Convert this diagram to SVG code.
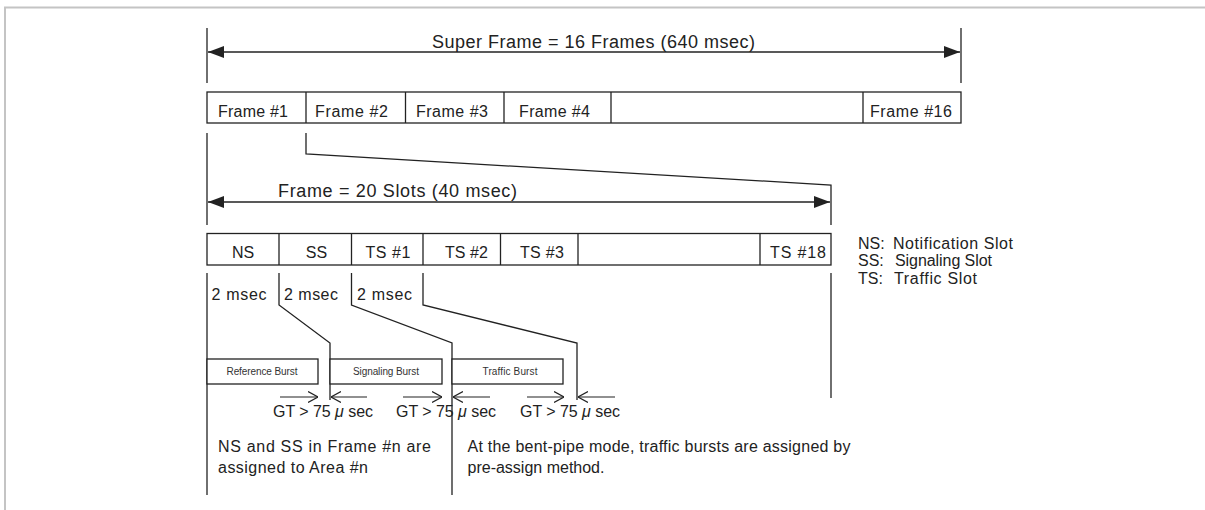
<svg xmlns="http://www.w3.org/2000/svg" width="1205" height="510" viewBox="0 0 1205 510">
<defs>
<style>
.ln{fill:none;stroke:#222;stroke-width:1.3}
.bx{fill:#fff;stroke:#222;stroke-width:1.3}
.t{font-family:"Liberation Sans",Arial,sans-serif;font-size:16px;fill:#222}
.tl{font-family:"Liberation Sans",Arial,sans-serif;font-size:18px;fill:#222}
.ts{font-family:"Liberation Sans",Arial,sans-serif;font-size:10px;fill:#333}
.m{text-anchor:middle}
.op{fill:none;stroke:#222;stroke-width:1.2}
</style>
<marker id="fa" viewBox="0 0 16 12" refX="16" refY="6" markerWidth="16" markerHeight="12" markerUnits="userSpaceOnUse" orient="auto-start-reverse">
<path d="M0,0 L16,6 L0,12 Z" fill="#222"/>
</marker>
<marker id="oa" viewBox="0 0 10 12" refX="10" refY="6" markerWidth="10" markerHeight="12" markerUnits="userSpaceOnUse" orient="auto">
<path d="M0,0.5 L10,6 L0,11.5" fill="none" stroke="#222" stroke-width="1.2"/>
</marker>
</defs>
<rect width="1205" height="510" fill="#fff"/>
<path d="M5,510 V7.5 H1205" fill="none" stroke="#c4c4c4" stroke-width="2"/>

<g id="connectors">
<line class="ln" x1="207" y1="28" x2="207" y2="83"/>
<line class="ln" x1="961" y1="28" x2="961" y2="83"/>
<line class="ln" x1="208" y1="52" x2="960" y2="52" marker-start="url(#fa)" marker-end="url(#fa)"/>
<line class="ln" x1="207" y1="133" x2="207" y2="225"/>
<polyline class="ln" points="306,133 306,154 831,185 831,225"/>
<line class="ln" x1="208" y1="202" x2="830" y2="202" marker-start="url(#fa)" marker-end="url(#fa)"/>
<line class="ln" x1="207" y1="273" x2="207" y2="495"/>
<polyline class="ln" points="279,273 279,305 330,343 330,400"/>
<polyline class="ln" points="351.5,273 351.5,305 452,343 452,495"/>
<polyline class="ln" points="423,273 423,305 577,343 577,400"/>
<line class="ln" x1="831" y1="273" x2="831" y2="398"/>
<line class="op" x1="280" y1="397" x2="318" y2="397" marker-end="url(#oa)"/>
<line class="op" x1="367" y1="397" x2="331" y2="397" marker-end="url(#oa)"/>
<line class="op" x1="403" y1="397" x2="442" y2="397" marker-end="url(#oa)"/>
<line class="op" x1="490" y1="397" x2="453" y2="397" marker-end="url(#oa)"/>
<line class="op" x1="527" y1="397" x2="564" y2="397" marker-end="url(#oa)"/>
<line class="op" x1="615" y1="397" x2="578" y2="397" marker-end="url(#oa)"/>
</g>

<g id="superframe-label">
<text class="tl" x="432" y="48" textLength="323" lengthAdjust="spacing">Super Frame = 16 Frames (640 msec)</text>
</g>

<g id="frames">
<rect class="bx" x="207" y="92" width="754" height="31"/>
<line class="ln" x1="306" y1="92" x2="306" y2="123"/>
<line class="ln" x1="405.5" y1="92" x2="405.5" y2="123"/>
<line class="ln" x1="504" y1="92" x2="504" y2="123"/>
<line class="ln" x1="611" y1="92" x2="611" y2="123"/>
<line class="ln" x1="863" y1="92" x2="863" y2="123"/>
<text class="t" x="218" y="117" textLength="70" lengthAdjust="spacing">Frame #1</text>
<text class="t" x="315" y="117" textLength="73" lengthAdjust="spacing">Frame #2</text>
<text class="t" x="416" y="117" textLength="72" lengthAdjust="spacing">Frame #3</text>
<text class="t" x="519" y="117" textLength="71" lengthAdjust="spacing">Frame #4</text>
<text class="t" x="870" y="117" textLength="82" lengthAdjust="spacing">Frame #16</text>
</g>

<g id="frame-label">
<text class="tl" x="278" y="197" textLength="239" lengthAdjust="spacing">Frame = 20 Slots (40 msec)</text>
</g>

<g id="slots">
<rect class="bx" x="207" y="233.5" width="624" height="31.5"/>
<line class="ln" x1="279" y1="233.5" x2="279" y2="265"/>
<line class="ln" x1="351.5" y1="233.5" x2="351.5" y2="265"/>
<line class="ln" x1="423" y1="233.5" x2="423" y2="265"/>
<line class="ln" x1="500.5" y1="233.5" x2="500.5" y2="265"/>
<line class="ln" x1="578" y1="233.5" x2="578" y2="265"/>
<line class="ln" x1="760" y1="233.5" x2="760" y2="265"/>
<text class="t m" x="243" y="258">NS</text>
<text class="t m" x="316.5" y="258">SS</text>
<text class="t m" x="388" y="258" textLength="45" lengthAdjust="spacing">TS #1</text>
<text class="t m" x="466.5" y="258" textLength="43" lengthAdjust="spacing">TS #2</text>
<text class="t m" x="542" y="258" textLength="44" lengthAdjust="spacing">TS #3</text>
<text class="t m" x="798" y="258" textLength="56" lengthAdjust="spacing">TS #18</text>
</g>

<g id="legend">
<text class="t" x="858" y="248.5">NS:</text>
<text class="t" x="893" y="248.5" textLength="120" lengthAdjust="spacing">Notification Slot</text>
<text class="t" x="858" y="266">SS:</text>
<text class="t" x="895" y="266" textLength="97" lengthAdjust="spacing">Signaling Slot</text>
<text class="t" x="858" y="284">TS:</text>
<text class="t" x="894" y="284" textLength="83" lengthAdjust="spacing">Traffic Slot</text>
</g>

<g id="durations">
<text class="t" x="211.5" y="300" textLength="55" lengthAdjust="spacing">2 msec</text>
<text class="t" x="284" y="300" textLength="54" lengthAdjust="spacing">2 msec</text>
<text class="t" x="357" y="300" textLength="55" lengthAdjust="spacing">2 msec</text>
</g>

<g id="reference-burst">
<rect class="bx" x="207" y="359" width="111" height="25"/>
<text class="ts m" x="262" y="374.5" textLength="71" lengthAdjust="spacing">Reference Burst</text>
</g>
<g id="signaling-burst">
<rect class="bx" x="330" y="359" width="112" height="25"/>
<text class="ts m" x="386" y="374.5" textLength="66" lengthAdjust="spacing">Signaling Burst</text>
</g>
<g id="traffic-burst">
<rect class="bx" x="452" y="359" width="111" height="25"/>
<text class="ts m" x="510" y="374.5" textLength="55" lengthAdjust="spacing">Traffic Burst</text>
</g>

<g id="guard-times">
<text class="t" x="273" y="417" textLength="100" lengthAdjust="spacing">GT &gt; 75 <tspan font-style="italic">μ</tspan> sec</text>
<text class="t" x="396" y="417" textLength="100" lengthAdjust="spacing">GT &gt; 75 <tspan font-style="italic">μ</tspan> sec</text>
<text class="t" x="520" y="417" textLength="100" lengthAdjust="spacing">GT &gt; 75 <tspan font-style="italic">μ</tspan> sec</text>
</g>

<g id="note-ns-ss">
<text class="t" x="218" y="452" textLength="213" lengthAdjust="spacing">NS and SS in Frame #n are</text>
<text class="t" x="218" y="473" textLength="150" lengthAdjust="spacing">assigned to Area #n</text>
</g>
<g id="note-bent-pipe">
<text class="t" x="467.5" y="452" textLength="383" lengthAdjust="spacing">At the bent-pipe mode, traffic bursts are assigned by</text>
<text class="t" x="467.5" y="473">pre-assign method.</text>
</g>
</svg>
